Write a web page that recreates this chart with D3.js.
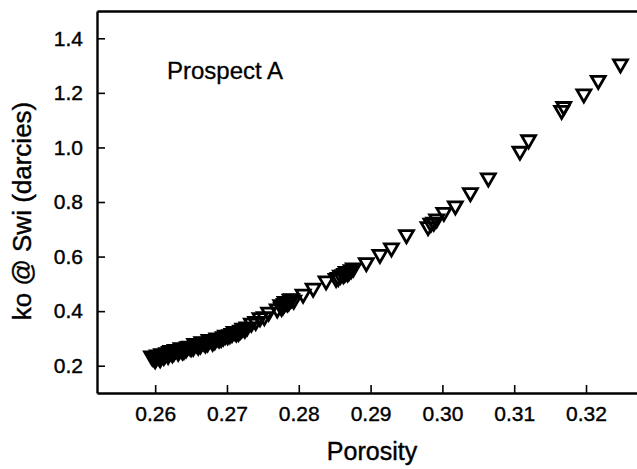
<!DOCTYPE html>
<html>
<head>
<meta charset="utf-8">
<script src="https://d3js.org/d3.v7.min.js"></script>
<style>
  body { margin: 0; background: #fff; }
  svg { font-family: "Liberation Sans", Arial, sans-serif; }
</style>
</head>
<body>
<script>
// porosity vs ko @ Swi
// (last rows = extra points hidden inside the dense black clusters)
const porosity = [
  0.2597, 0.2600, 0.2603, 0.2606, 0.2609, 0.2612, 0.2616, 0.2620, 0.2624, 0.2628,
  0.2632, 0.2636, 0.2640, 0.2645, 0.2650, 0.2655, 0.2660, 0.2665, 0.2670, 0.2675,
  0.2680, 0.2686, 0.2692, 0.2698, 0.2704, 0.2710, 0.2716, 0.2722, 0.2728, 0.2734,
  0.2740, 0.2746, 0.2752, 0.2758, 0.2770, 0.2775, 0.2778, 0.2781, 0.2784, 0.2788,
  0.2793, 0.2806, 0.2820, 0.2838, 0.2852, 0.2858, 0.2862, 0.2866, 0.2870, 0.2876,
  0.2894, 0.2913, 0.2929, 0.2950, 0.2980, 0.2984, 0.2988, 0.2992, 0.3002, 0.3018,
  0.3039, 0.3064, 0.3108, 0.3120, 0.3166, 0.3169, 0.3197, 0.3217, 0.3248,
  0.2595, 0.2601, 0.2607, 0.2614, 0.2618, 0.2622, 0.2626, 0.2634, 0.2638, 0.2643,
  0.2648, 0.2653, 0.2658, 0.2663, 0.2668, 0.2673, 0.2678, 0.2683, 0.2689, 0.2695,
  0.2701, 0.2707, 0.2713, 0.2719, 0.2725, 0.2776, 0.2780, 0.2786, 0.2790, 0.2855,
  0.2864, 0.2868, 0.2873
]
const ko = [
  0.230, 0.222, 0.240, 0.230, 0.244, 0.234, 0.248, 0.252, 0.244, 0.260,
  0.250, 0.266, 0.256, 0.270, 0.266, 0.282, 0.272, 0.288, 0.280, 0.296,
  0.286, 0.302, 0.300, 0.312, 0.314, 0.326, 0.322, 0.338, 0.342, 0.356,
  0.362, 0.376, 0.380, 0.396, 0.408, 0.424, 0.420, 0.436, 0.430, 0.444,
  0.440, 0.462, 0.484, 0.511, 0.520, 0.532, 0.534, 0.546, 0.546, 0.558,
  0.578, 0.608, 0.632, 0.680, 0.710, 0.722, 0.726, 0.738, 0.762, 0.786,
  0.834, 0.888, 0.986, 1.028, 1.136, 1.150, 1.196, 1.246, 1.306,
  0.236, 0.232, 0.226, 0.242, 0.238, 0.256, 0.250, 0.258, 0.254, 0.262,
  0.272, 0.268, 0.280, 0.276, 0.286, 0.284, 0.296, 0.292, 0.298, 0.306,
  0.310, 0.318, 0.320, 0.330, 0.334, 0.414, 0.428, 0.434, 0.446, 0.524,
  0.538, 0.540, 0.552
]
const xTicks = [0.26, 0.27, 0.28, 0.29, 0.30, 0.31, 0.32]
const yTicks = [0.2, 0.4, 0.6, 0.8, 1.0, 1.2, 1.4]

const width = 637, height = 469
const margin = { top: 11, right: 0, bottom: 76, left: 97 }

const svg = d3.select('body').append('svg')
  .attr('width', width)
  .attr('height', height)

const x = d3.scaleLinear().domain([0.2519, 0.3271]).range([margin.left, width - margin.right])
const y = d3.scaleLinear().domain([0.1, 1.5]).range([height - margin.bottom, margin.top])

const axisX = d3.axisBottom(x).tickValues(xTicks).tickFormat(d3.format('.2f'))
  .tickSizeInner(-8).tickSizeOuter(0).tickPadding(13)
const axisY = d3.axisLeft(y).tickValues(yTicks).tickFormat(d3.format('.1f'))
  .tickSizeInner(-8).tickSizeOuter(0).tickPadding(14)

svg.append('g')
  .attr('transform', `translate(0, ${height - margin.bottom})`)
  .call(axisX)
svg.append('g')
  .attr('transform', `translate(${margin.left}, 0)`)
  .call(axisY)

// top frame line, no ticks
svg.append('g')
  .attr('transform', `translate(0, ${margin.top})`)
  .call(d3.axisTop(x).tickValues([]).tickSizeOuter(0))

svg.selectAll('.domain').attr('stroke', '#000').attr('stroke-width', 2.4)
svg.selectAll('.tick line').attr('stroke', '#000').attr('stroke-width', 1.6)
svg.selectAll('.tick text').attr('fill', '#000').attr('font-size', 21)
  .attr('font-family', '"Liberation Sans", Arial, sans-serif')
  .attr('stroke', '#000').attr('stroke-width', 0.4)

svg.append('text')
  .attr('x', 372).attr('y', 460)
  .attr('text-anchor', 'middle')
  .attr('font-size', 25)
  .attr('stroke', '#000').attr('stroke-width', 0.4)
  .text('Porosity')

svg.append('text')
  .attr('transform', 'translate(31, 211) rotate(-90)')
  .attr('text-anchor', 'middle')
  .attr('font-size', 26)
  .attr('stroke', '#000').attr('stroke-width', 0.4)
  .text('ko @ Swi (darcies)')

svg.append('text')
  .attr('x', 167).attr('y', 79)
  .attr('font-size', 24)
  .attr('stroke', '#000').attr('stroke-width', 0.3)
  .text('Prospect A')

const tri = d3.symbol().type(d3.symbolTriangle).size(84)

svg.append('g')
  .selectAll('path')
  .data(porosity.map((p, i) => [p, ko[i]]))
  .join('path')
  .attr('d', tri)
  .attr('transform', d => `translate(${x(d[0])}, ${y(d[1])}) rotate(180)`)
  .attr('fill', 'none')
  .attr('stroke', '#000')
  .attr('stroke-width', 2.8)
</script>
</body>
</html>
